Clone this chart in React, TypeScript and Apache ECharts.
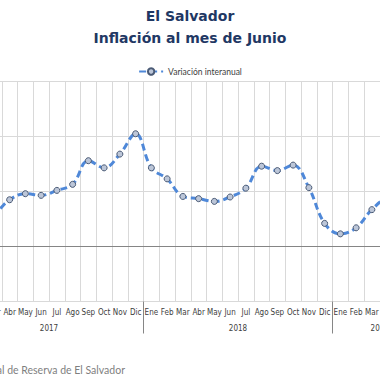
import React, { useEffect, useRef } from "react";
import * as echarts from "echarts";

const months = [
  "Ene", "Feb", "Mar", "Abr", "May", "Jun", "Jul", "Ago", "Sep", "Oct", "Nov", "Dic",
  "Ene", "Feb", "Mar", "Abr", "May", "Jun", "Jul", "Ago", "Sep", "Oct", "Nov", "Dic",
  "Ene", "Feb", "Mar", "Abr", "May", "Jun",
];
const years = ["2017", "2018", "2019"];
const monthsPerYear = [12, 12, 6];
const inflation = [
  0.3, 0.45, 0.58, 0.85, 0.96, 0.93, 1.02, 1.13, 1.56, 1.43, 1.68, 2.05,
  1.43, 1.23, 0.91, 0.87, 0.82, 0.9, 1.06, 1.46, 1.38, 1.48, 1.07, 0.42,
  0.23, 0.34, 0.67, 0.86, 0.75, 0.6,
];
const seriesName = "Variación interanual";
const yTicks = { min: -1, max: 3, interval: 1 };

export default function App() {
  const ref = useRef<HTMLDivElement>(null);
  useEffect(() => {
    if (!ref.current) return;
    const chart = echarts.init(ref.current, null, { renderer: "svg" });
    const bounds: number[] = [];
    const centers: number[] = [];
    let acc = 0;
    monthsPerYear.forEach((n, i) => {
      centers.push(acc + n / 2);
      acc += n;
      if (i < monthsPerYear.length - 1) bounds.push(acc);
    });
    const total = acc;
    const font = "'DejaVu Sans Condensed', Roboto, sans-serif";
    const font2 = "Lato, 'Open Sans', sans-serif";
    chart.setOption({
      animation: false,
      title: {
        text: "El Salvador\nInflación al mes de Junio",
        left: "center",
        top: 5,
        padding: 0,
        textStyle: {
          fontFamily: "'DejaVu Sans', sans-serif",
          fontWeight: "bold",
          fontSize: 14,
          lineHeight: 22,
          color: "#1f3864",
        },
      },
      legend: {
        top: 62,
        left: "center",
        itemWidth: 24,
        itemHeight: 8,
        itemGap: 4,
        textStyle: { fontSize: 8.5, color: "#404040", fontFamily: font2 },
        data: [seriesName],
      },
      grid: {
        left: -45.5,
        right: -47,
        top: 81.5,
        bottom: 78.5,
        containLabel: false,
        outerBoundsMode: "none",
      },
      xAxis: [
        {
          type: "category",
          data: months,
          boundaryGap: true,
          position: "bottom",
          axisLine: { show: false },
          axisTick: { show: false },
          axisLabel: {
            interval: 0,
            fontSize: 8,
            color: "#404040",
            fontFamily: font,
            margin: 7,
          },
          splitLine: { show: true, interval: 0, lineStyle: { color: "#d9d9d9", width: 1 } },
        },
        {
          type: "value",
          min: 0,
          max: total,
          position: "bottom",
          axisLine: { show: false },
          splitLine: { show: false },
          axisTick: {
            show: true,
            customValues: bounds,
            length: 32,
            lineStyle: { color: "#868686", width: 1 },
          },
          axisLabel: {
            customValues: centers,
            formatter: (v: number) => {
              const i = centers.findIndex((c) => Math.abs(c - v) < 1e-6);
              return i >= 0 ? years[i] : "";
            },
            fontSize: 8,
            color: "#404040",
            fontFamily: font,
            margin: 23,
          },
        },
      ],
      yAxis: {
        type: "value",
        min: yTicks.min,
        max: yTicks.max,
        interval: yTicks.interval,
        axisLine: { show: false },
        axisTick: { show: false },
        axisLabel: {
          formatter: (v: number) => v.toFixed(1) + "%",
          fontSize: 9,
          color: "#404040",
        },
        splitLine: { show: true, lineStyle: { color: "#d9d9d9", width: 1 } },
      },
      series: [
        {
          name: seriesName,
          type: "line",
          data: inflation,
          smooth: 0.4,
          symbol: "circle",
          symbolSize: 6,
          showAllSymbol: true,
          itemStyle: { color: "#bcc6d8", borderColor: "#4a5a75", borderWidth: 1 },
          lineStyle: { color: "#4f88d8", width: 3, type: [7, 4] },
          markLine: {
            silent: true,
            symbol: "none",
            label: { show: false },
            lineStyle: { color: "#858585", width: 1, type: "solid" },
            data: [{ yAxis: 0 }],
            z: 1,
          },
        },
      ],
      graphic: [
        {
          type: "text",
          x: 125,
          y: 370,
          style: {
            text: "Fuente: Banco Central de Reserva de El Salvador",
            textAlign: "right",
            textVerticalAlign: "middle",
            fontSize: 10.5,
            fontFamily: font2,
            fill: "#7f7f7f",
          },
        },
      ],
    });
    return () => chart.dispose();
  }, []);
  return (
    <div
      ref={ref}
      style={{ position: "fixed", left: 0, top: 0, width: 380, height: 380, background: "#fff" }}
    />
  );
}
